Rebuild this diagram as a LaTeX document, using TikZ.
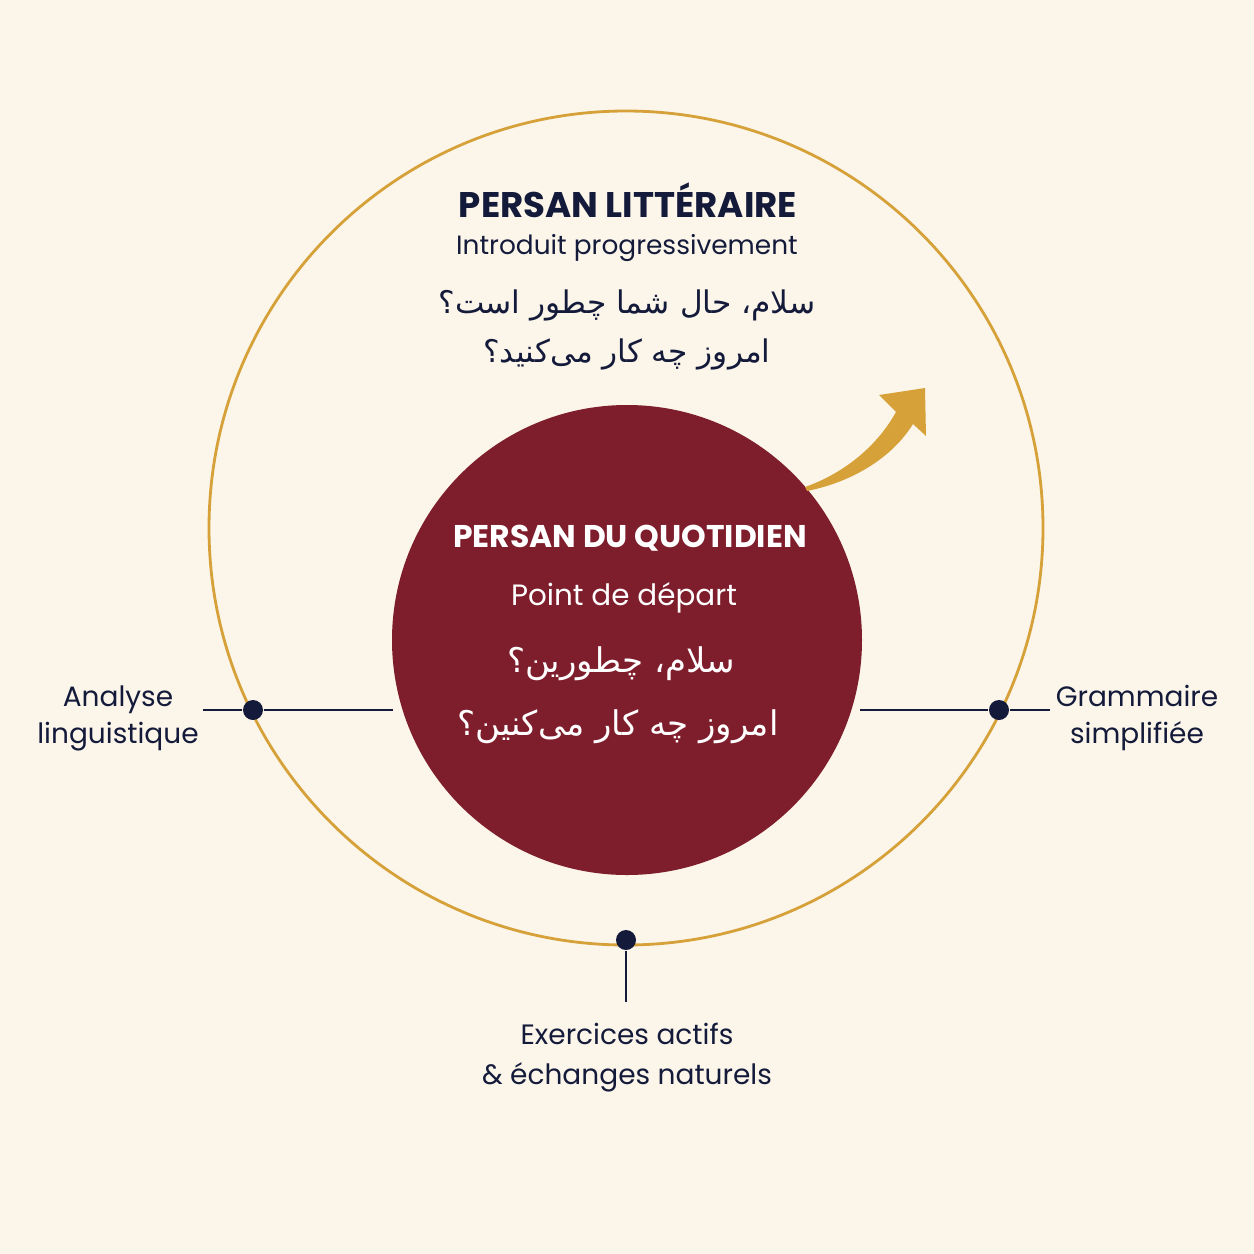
\documentclass[tikz,border=0pt]{standalone}
\usepackage{fontspec}
\setmainfont{Poppins}
\newfontfamily\farsifont[Script=Arabic]{DejaVu Sans}
\TeXXeTstate=1
\usepackage{tikz}
\definecolor{mycream}{RGB}{251, 245, 234}
\definecolor{mygold}{RGB}{214, 161, 56}
\definecolor{mymaroon}{RGB}{126, 29, 43}
\definecolor{mynavy}{RGB}{20, 26, 58}
\tikzset{every picture/.style={line width=0.75pt}}
\tikzset{
  titletext/.style={inner sep=0.75pt, align=center, font=\fontsize{15.7}{19}\selectfont\bfseries},
  subtext/.style={inner sep=0.75pt, align=center, font=\fontsize{13.2}{16}\selectfont},
  farsitext/.style={inner sep=0.75pt, align=center, font=\fontsize{15.6}{20}\farsifont},
  sidetext/.style={inner sep=0.75pt, align=center, text=mynavy, font=\fontsize{14}{18.5}\selectfont},
  pin/.style={circle, fill=mynavy, inner sep=0pt, minimum size=10pt},
  leader/.style={draw=mynavy, line width=1.2pt}
}

\begin{document}
\begin{tikzpicture}[x=0.50pt,y=0.50pt,yscale=-1]
%background, sets the diagram size
\fill [mycream] (0,0) rectangle (1254,1254) ;
\useasboundingbox (0,0) rectangle (1254,1254) ;

%Shape: Circle [id:outer]
\draw [color=mygold, line width=1.4pt] (626,528) circle [radius=417] ;
%Shape: Circle [id:inner]
\fill [mymaroon] (627,640) circle [radius=235] ;

%Shape: Arrow [id:grow]
\fill [mygold] (805,487) .. controls (842,474) and (876,448) .. (896,412) -- (879,395) -- (925,388) -- (926,436) -- (913,424) .. controls (892,458) and (852,482) .. (807,491) -- cycle ;

% Pins
\node [pin] (pinl) at (253,710) {} ;
\node [pin] (pinr) at (999,710) {} ;
\node [pin] (pinb) at (626,940) {} ;
\coordinate (l1) at (203,710) ;
\coordinate (l2) at (393,710) ;
\coordinate (r1) at (860,710) ;
\coordinate (r2) at (1050,710) ;
\coordinate (b1) at (626,1002) ;

%Straight Lines
\draw [leader] (l1) -- (pinl) -- (l2) ;
\draw [leader] (r1) -- (pinr) -- (r2) ;
\draw [leader] (pinb) -- (b1) ;

% Text Node
\node [titletext, text=mynavy, font=\fontsize{17.8}{21}\selectfont\bfseries] (littitle) at (628,200) {PERSAN LITTÉRAIRE} ;
% Text Node
\node [subtext, text=mynavy] (litsub) at (627,248) {Introduit progressivement} ;
% Text Node
\node [farsitext, text=mynavy] (litfa1) at (627,305) {\beginR سلام، حال شما چطور است؟\endR} ;
% Text Node
\node [farsitext, text=mynavy] (litfa2) at (627,354) {\beginR امروز چه کار می‌کنید؟\endR} ;

% Text Node
\node [titletext, text=white] (dailytitle) at (630,538) {PERSAN DU QUOTIDIEN} ;
% Text Node
\node [subtext, text=white, font=\fontsize{14.7}{17}\selectfont] (dailysub) at (624,598) {Point de départ} ;
% Text Node
\node [farsitext, text=white, font=\fontsize{17}{20}\farsifont] (dailyfa1) at (621,664) {\beginR سلام، چطورین؟\endR} ;
% Text Node
\node [farsitext, text=white, font=\fontsize{17}{20}\farsifont] (dailyfa2) at (618,727) {\beginR امروز چه کار می‌کنین؟\endR} ;

% Text Node
\node [sidetext] (analysis) at (118,718) {Analyse\\linguistique} ;
% Text Node
\node [sidetext] (grammar) at (1137,718) {Grammaire\\simplifiée} ;
% Text Node
\node [sidetext, font=\fontsize{14}{20}\selectfont] (practice) at (627,1058) {Exercices actifs\\\& échanges naturels} ;

\end{tikzpicture}
\end{document}
